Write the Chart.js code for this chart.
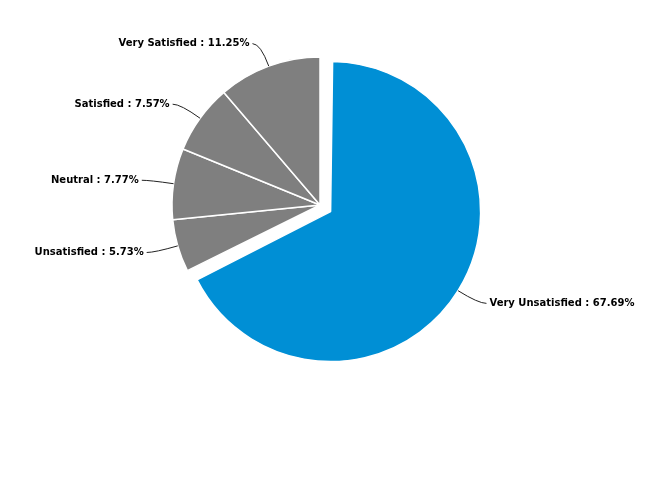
<!DOCTYPE html>
<html>
<head>
<meta charset="utf-8">
<script src="https://cdn.jsdelivr.net/npm/chart.js@4"></script>
<style>
  body { margin: 0; background: #fff; }
  #wrap { width: 650px; height: 500px; position: relative; }
</style>
</head>
<body>
<div id="wrap"><canvas id="pie-chart"></canvas></div>
<script>
const labels = ['Very Unsatisfied', 'Unsatisfied', 'Neutral', 'Satisfied', 'Very Satisfied'];
const percents = [67.69, 5.73, 7.77, 7.57, 11.25];

const sliceColors = ['#008fd5', '#7f7f7f', '#7f7f7f', '#7f7f7f', '#7f7f7f'];

// chart.js grows an offset slice by offset/4, pull the blue one back in
const shrinkOffsetSlice = {
    id: 'shrinkOffsetSlice',
    afterDatasetUpdate(chart, args) {
        args.meta.data.forEach(arc => {
            const off = (arc.options.offset || 0) / 4;
            if (off > 0) arc.outerRadius = arc.outerRadius - off + 2;
        });
    }
};

const leaderLabels = {
    id: 'leaderLabels',
    afterDatasetsDraw(chart) {
        const ctx = chart.ctx;
        const meta = chart.getDatasetMeta(0);
        ctx.save();
        ctx.font = 'bold 10px "DejaVu Sans"';
        ctx.textBaseline = 'middle';
        meta.data.forEach((arc, i) => {
            const mid = (arc.startAngle + arc.endAngle) / 2;
            const dx = Math.cos(mid), dy = Math.sin(mid);
            const off = (arc.options.offset || 0) / 4;
            const fix = 1 - Math.sin(Math.min(Math.PI, arc.circumference));
            const r = arc.outerRadius + off * fix;
            const cx = arc.x + dx * off, cy = arc.y + dy * off;
            const side = dx >= 0 ? 1 : -1;
            const ex = cx + dx * r, ey = cy + dy * r;
            const kx = cx + dx * (r + 24), ky = cy + dy * (r + 24);
            const tx = kx + side * 8;
            ctx.strokeStyle = '#222';
            ctx.lineWidth = 1;
            ctx.beginPath();
            ctx.moveTo(ex, ey);
            ctx.quadraticCurveTo(kx, ky, tx, ky);
            ctx.stroke();
            ctx.fillStyle = '#000';
            ctx.textAlign = side > 0 ? 'left' : 'right';
            ctx.fillText(`${labels[i]} : ${percents[i].toFixed(2)}%`, tx + side * 3, ky);
        });
        ctx.restore();
    }
};

new Chart(document.getElementById('pie-chart').getContext('2d'), {
    type: 'pie',
    data: {
        labels: labels,
        datasets: [{
            data: percents,
            backgroundColor: sliceColors,
            borderColor: '#ffffff',
            borderWidth: 1.5,
            offset: ctx => ctx.dataIndex === 0 ? 50 : 0
        }]
    },
    options: {
        responsive: true,
        maintainAspectRatio: false,
        animation: false,
        radius: 148,
        layout: { padding: { left: 0, right: 10, top: 0, bottom: 90 } },
        plugins: {
            legend: { display: false },
            tooltip: { enabled: false }
        }
    },
    plugins: [shrinkOffsetSlice, leaderLabels]
});
</script>
</body>
</html>
